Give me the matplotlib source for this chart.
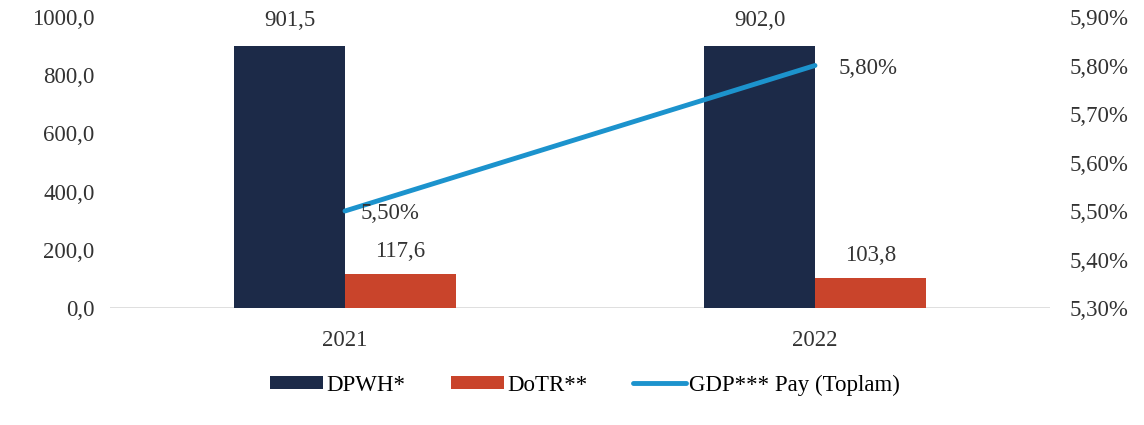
import matplotlib
matplotlib.use("Agg")
import matplotlib.pyplot as plt
import numpy as np

years = ["2021", "2022"]
dpwh = [901.5, 902.0]
dotr = [117.6, 103.8]
gdp_share = [5.50, 5.80]
left_ticks = [0, 200, 400, 600, 800, 1000]
right_ticks = [5.30, 5.40, 5.50, 5.60, 5.70, 5.80, 5.90]

plt.rcParams['font.family'] = ['Liberation Serif', 'DejaVu Serif']
FS = 16.5
navy = "#1c2a48"
red = "#c9442b"
blue = "#1c93cd"
tc = "#333333"

fig = plt.figure(figsize=(11.44, 4.25), dpi=100)
ax = fig.add_axes([110/1144, 1-308/425, 940/1144, 291/425])
x = np.arange(len(years))
w = 0.236
b1 = ax.bar(x - w/2, dpwh, w, color=navy, label="DPWH*")
b2 = ax.bar(x + w/2, dotr, w, color=red, label="DoTR**")
ax.set_xlim(-0.5, 1.5)
ax.set_ylim(0, 1000)
ax.set_yticks(left_ticks)
ax.set_yticklabels([f"{v:.1f}".replace(".", ",") for v in left_ticks], fontsize=FS, color=tc)
ax.set_xticks(x)
ax.set_xticklabels(years, fontsize=FS, color=tc)
ax.tick_params(axis='x', length=0, pad=16)
ax.tick_params(axis='y', length=0, pad=11)
for s in ax.spines.values():
    s.set_visible(False)
ax.axhline(0, color="#d9d9d9", lw=1.2, zorder=0)

for xi, v in zip(x - w/2, dpwh):
    ax.text(xi, v + 50, f"{v:.1f}".replace(".", ","), ha="center", va="bottom", fontsize=FS, color=tc)
for xi, v in zip(x + w/2, dotr):
    ax.text(xi, v + 40, f"{v:.1f}".replace(".", ","), ha="center", va="bottom", fontsize=FS, color=tc)

ax2 = ax.twinx()
ax2.set_ylim(5.30, 5.90)
ln, = ax2.plot(x, gdp_share, color=blue, lw=3.5, label="GDP*** Pay (Toplam)", solid_capstyle="round")
ax2.set_yticks(right_ticks)
ax2.set_yticklabels([f"{v:.2f}%".replace(".", ",") for v in right_ticks], fontsize=FS, color=tc)
ax2.tick_params(length=0, pad=14)
for s in ax2.spines.values():
    s.set_visible(False)
ax2.text(x[0] + 0.095, gdp_share[0] - 0.006, f"{gdp_share[0]:.2f}%".replace(".", ","), ha="center", va="center", fontsize=FS, color=tc)
ax2.text(x[1] + 0.05, gdp_share[1] - 0.006, f"{gdp_share[1]:.2f}%".replace(".", ","), ha="left", va="center", fontsize=FS, color=tc)

fig.legend([b1, b2, ln], ["DPWH*", "DoTR**", "GDP*** Pay (Toplam)"], loc="center",
           bbox_to_anchor=(585/1144, 1-385/425), ncol=3, frameon=False, fontsize=FS,
           handlelength=2.3, handleheight=0.45, columnspacing=2.0, handletextpad=0.15)

fig.savefig("out.png", dpi=100)
